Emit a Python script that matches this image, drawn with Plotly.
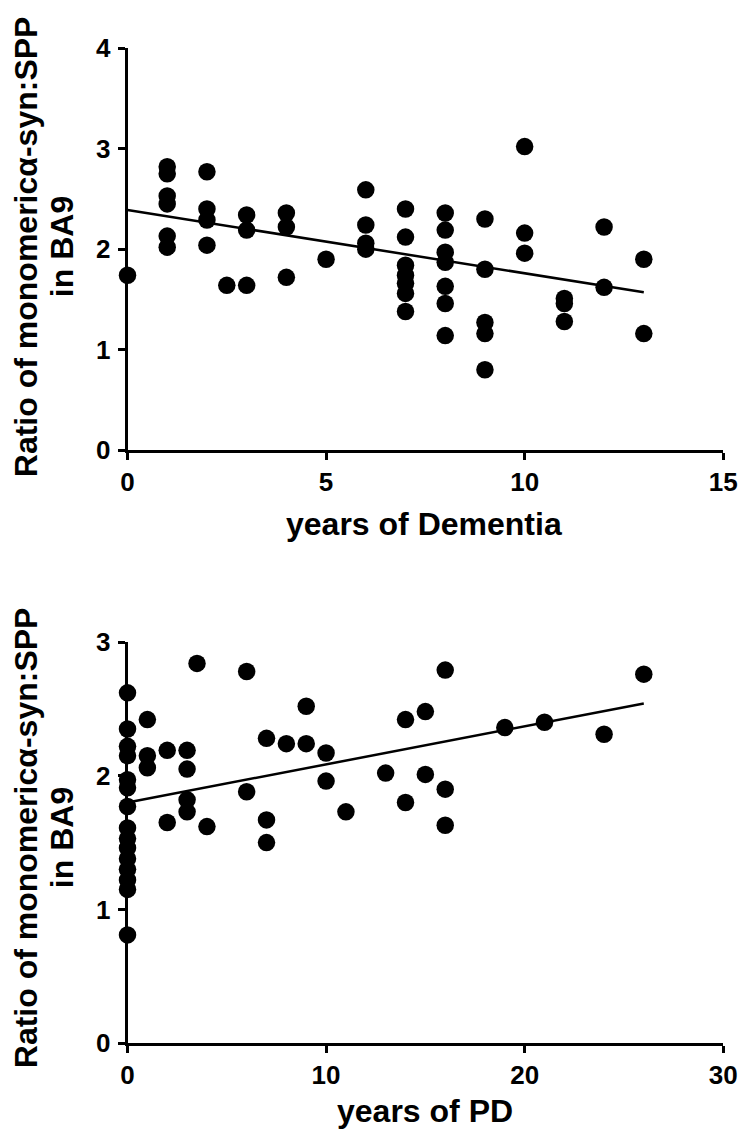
import plotly.graph_objects as go

# ---- Data: top panel (years of Dementia) ----
dem_years = [0,
             1, 1, 1, 1, 1, 1,
             2, 2, 2, 2,
             2.5,
             3, 3, 3,
             4, 4, 4,
             5,
             6, 6, 6, 6,
             7, 7, 7, 7, 7, 7, 7,
             8, 8, 8, 8, 8, 8, 8,
             9, 9, 9, 9, 9,
             10, 10, 10,
             11, 11, 11,
             12, 12,
             13, 13]
dem_ratio = [1.74,
             2.82, 2.75, 2.53, 2.45, 2.13, 2.02,
             2.77, 2.40, 2.29, 2.04,
             1.64,
             2.34, 2.19, 1.64,
             2.36, 2.22, 1.72,
             1.90,
             2.59, 2.24, 2.06, 2.00,
             2.40, 2.12, 1.84, 1.74, 1.66, 1.56, 1.38,
             2.36, 2.19, 1.97, 1.87, 1.63, 1.46, 1.14,
             2.30, 1.80, 1.27, 1.16, 0.80,
             3.02, 2.16, 1.96,
             1.51, 1.46, 1.28,
             2.22, 1.62,
             1.90, 1.16]
dem_fit_intercept = 2.39
dem_fit_slope = -0.063
dem_fit_x = [0, 13]

# ---- Data: bottom panel (years of PD) ----
pd_years = [0, 0, 0, 0, 0, 0, 0, 0, 0, 0, 0, 0, 0, 0, 0,
            1, 1, 1,
            2, 2,
            3, 3, 3, 3,
            3.5,
            4,
            6, 6,
            7, 7, 7,
            8,
            9, 9,
            10, 10,
            11,
            13,
            14, 14,
            15, 15,
            16, 16, 16,
            19, 21, 24, 26]
pd_ratio = [2.62, 2.35, 2.22, 2.15, 1.97, 1.91, 1.77, 1.61, 1.53, 1.46, 1.38, 1.30, 1.22, 1.15, 0.81,
            2.42, 2.15, 2.06,
            2.19, 1.65,
            2.19, 2.05, 1.82, 1.73,
            2.84,
            1.62,
            2.78, 1.88,
            2.28, 1.67, 1.50,
            2.24,
            2.52, 2.24,
            2.17, 1.96,
            1.73,
            2.02,
            2.42, 1.80,
            2.48, 2.01,
            2.79, 1.90, 1.63,
            2.36, 2.40, 2.31, 2.76]
pd_fit_intercept = 1.80
pd_fit_slope = 0.0285
pd_fit_x = [0, 26]

dem_ticks = [0, 5, 10, 15]
dem_yticks = [0, 1, 2, 3, 4]
pd_ticks = [0, 10, 20, 30]
pd_yticks = [0, 1, 2, 3]

y_title_1 = "Ratio of monomeric\u03b1-syn:SPP"
y_title_2 = "in BA9"
x_title_top = "years of Dementia"
x_title_bottom = "years of PD"

W, H = 745, 1139
FONT = "Liberation Sans, Arial, sans-serif"

fig = go.Figure()

marker = dict(color="black", size=17.5, line=dict(width=0))
fig.add_trace(go.Scatter(x=dem_years, y=dem_ratio, mode="markers", marker=marker,
                         cliponaxis=False, xaxis="x", yaxis="y", showlegend=False))
fig.add_trace(go.Scatter(x=dem_fit_x, y=[dem_fit_intercept + dem_fit_slope * v for v in dem_fit_x],
                         mode="lines", line=dict(color="black", width=2.5),
                         xaxis="x", yaxis="y", showlegend=False))
fig.add_trace(go.Scatter(x=pd_years, y=pd_ratio, mode="markers", marker=marker,
                         cliponaxis=False, xaxis="x2", yaxis="y2", showlegend=False))
fig.add_trace(go.Scatter(x=pd_fit_x, y=[pd_fit_intercept + pd_fit_slope * v for v in pd_fit_x],
                         mode="lines", line=dict(color="black", width=2.5),
                         xaxis="x2", yaxis="y2", showlegend=False))

tickfont = dict(family=FONT, size=26, color="black", weight="bold")
axis_common = dict(showline=True, linecolor="black", linewidth=2.5, ticks="outside",
                   ticklen=7, tickwidth=2.5, tickcolor="black", showgrid=False,
                   zeroline=False, tickfont=tickfont, fixedrange=True,
                   ticklabeloverflow="allow")

xdom = [124 / W, 737 / W]
fig.update_layout(
    width=W, height=H,
    margin=dict(l=0, r=0, t=0, b=0),
    paper_bgcolor="white", plot_bgcolor="white",
    xaxis=dict(domain=xdom, range=[0, 15], tickvals=dem_ticks, anchor="y", **axis_common),
    yaxis=dict(domain=[1 - 447 / H, 1 - 34 / H], range=[0, 4], tickvals=dem_yticks,
               anchor="x", ticklabelstandoff=2, **axis_common),
    xaxis2=dict(domain=xdom, range=[0, 30], tickvals=pd_ticks, anchor="y2", **axis_common),
    yaxis2=dict(domain=[1 - 1056 / H, 1 - 644 / H], range=[0, 3], tickvals=pd_yticks,
                anchor="x2", ticklabelstandoff=2, **axis_common),
)

xtitle_font = dict(family=FONT, size=32, color="black", weight="bold")
ytitle_font = dict(family=FONT, size=32, color="black", weight="bold")
ann = []
ann.append(dict(text=x_title_top, x=429 / W, y=1 - 523 / H, xref="paper", yref="paper",
                xanchor="center", yanchor="middle", showarrow=False, font=xtitle_font))
ann.append(dict(text=x_title_bottom, x=430 / W, y=1 - 1126 / H, xref="paper", yref="paper",
                xanchor="center", yanchor="middle", showarrow=False, font=xtitle_font))
for yc in (238, 845):
    ann.append(dict(text=y_title_1, x=19 / W, y=1 - yc / H, xref="paper", yref="paper",
                    xanchor="center", yanchor="middle", textangle=-90, showarrow=False,
                    font=ytitle_font))
    ann.append(dict(text=y_title_2, x=56 / W, y=1 - yc / H, xref="paper", yref="paper",
                    xanchor="center", yanchor="middle", textangle=-90, showarrow=False,
                    font=ytitle_font))
fig.update_layout(annotations=ann)

fig.write_html("out.html", config={"displayModeBar": False},
               post_script="document.body.style.margin='0px';")
